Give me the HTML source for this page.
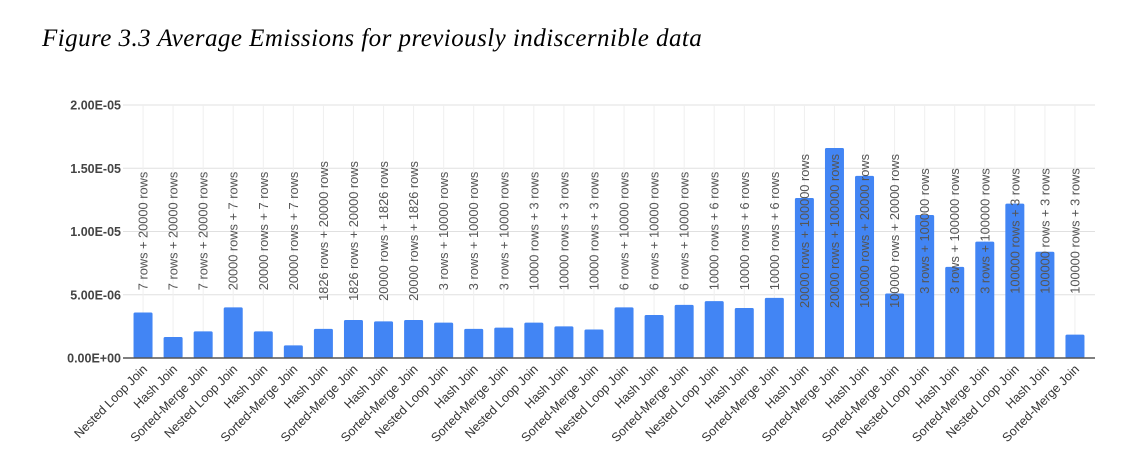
<!DOCTYPE html>
<html><head><meta charset="utf-8"><style>
body{margin:0;background:#fff;width:1132px;height:462px;overflow:hidden}
.title{position:absolute;left:42px;top:25px;font-family:"Liberation Serif",serif;font-style:italic;font-size:25px;letter-spacing:0.45px;color:#000;white-space:nowrap}
</style></head><body>
<div class="title">Figure 3.3 Average Emissions for previously indiscernible data</div>
<svg id="chart" width="1132" height="462" style="position:absolute;left:0;top:0" font-family="Liberation Sans, sans-serif"></svg>
<script>
const categories=["Nested Loop Join","Hash Join","Sorted-Merge Join","Nested Loop Join","Hash Join","Sorted-Merge Join","Hash Join","Sorted-Merge Join","Hash Join","Sorted-Merge Join","Nested Loop Join","Hash Join","Sorted-Merge Join","Nested Loop Join","Hash Join","Sorted-Merge Join","Nested Loop Join","Hash Join","Sorted-Merge Join","Nested Loop Join","Hash Join","Sorted-Merge Join","Hash Join","Sorted-Merge Join","Hash Join","Sorted-Merge Join","Nested Loop Join","Hash Join","Sorted-Merge Join","Nested Loop Join","Hash Join","Sorted-Merge Join"];
const annotations=["7 rows + 20000 rows","7 rows + 20000 rows","7 rows + 20000 rows","20000 rows + 7 rows","20000 rows + 7 rows","20000 rows + 7 rows","1826 rows + 20000 rows","1826 rows + 20000 rows","20000 rows + 1826 rows","20000 rows + 1826 rows","3 rows + 10000 rows","3 rows + 10000 rows","3 rows + 10000 rows","10000 rows + 3 rows","10000 rows + 3 rows","10000 rows + 3 rows","6 rows + 10000 rows","6 rows + 10000 rows","6 rows + 10000 rows","10000 rows + 6 rows","10000 rows + 6 rows","10000 rows + 6 rows","20000 rows + 100000 rows","20000 rows + 100000 rows","100000 rows + 20000 rows","100000 rows + 20000 rows","3 rows + 100000 rows","3 rows + 100000 rows","3 rows + 100000 rows","100000 rows + 3 rows","100000 rows + 3 rows","100000 rows + 3 rows"];
const values=[3.6e-6,1.66e-6,2.1e-6,4.0e-6,2.1e-6,1.0e-6,2.3e-6,3.0e-6,2.9e-6,3.0e-6,2.8e-6,2.3e-6,2.4e-6,2.8e-6,2.5e-6,2.25e-6,4.0e-6,3.4e-6,4.2e-6,4.5e-6,3.95e-6,4.75e-6,1.265e-5,1.66e-5,1.44e-5,5.1e-6,1.13e-5,7.2e-6,9.2e-6,1.22e-5,8.4e-6,1.85e-6];
const yTicks=[0,5e-6,1e-5,1.5e-5,2e-5];
const yTickLabels=["0.00E+00","5.00E-06","1.00E-05","1.50E-05","2.00E-05"];
const svg=document.getElementById('chart');
const NS='http://www.w3.org/2000/svg';
const L=128,R=1090,T=105,B=358,yMax=2e-5;
const band=(R-L)/categories.length;
const xc=i=>L+band*(i+0.5);
const y=v=>B-(v/yMax)*(B-T);
function mk(t,a){const e=document.createElementNS(NS,t);for(const k in a)e.setAttribute(k,a[k]);svg.appendChild(e);return e;}
yTicks.forEach((t,i)=>{
  if(t>0){const g=mk('line',{x1:123,x2:1095,y1:y(t),y2:y(t),stroke:'#e0e0e0','stroke-width':1});
  
  }
  const tx=mk('text',{x:121,y:y(t)+4.5,'text-anchor':'end','font-size':'12.5','font-weight':'bold',fill:'#444'});
  tx.textContent=yTickLabels[i];
  
  
});
categories.forEach((c,i)=>{
  const g=mk('line',{x1:xc(i),x2:xc(i),y1:T,y2:B,stroke:'#efefef','stroke-width':1});
  
  
});
values.forEach((v,i)=>{
  const r=mk('rect',{x:xc(i)-9.5,y:y(v),width:19,height:B-y(v),fill:'#4285f4',rx:1.5});
  
  
});
annotations.forEach((a,i)=>{
  const t=mk('text',{x:0,y:0,'text-anchor':'middle','font-size':'12.8',fill:'#555',transform:`translate(${xc(i)+4.5},231) rotate(-90)`});
  t.textContent=a;
  
  
});
const ax=mk('line',{x1:123,x2:1095,y1:B,y2:B,stroke:'#555','stroke-width':1.5});


categories.forEach((c,i)=>{
  const t=mk('text',{x:0,y:0,'text-anchor':'end','font-size':'12.5',fill:'#333',transform:`translate(${xc(i)+5},370) rotate(-45)`});
  t.textContent=c;
  
  
});
</script>
</body></html>
